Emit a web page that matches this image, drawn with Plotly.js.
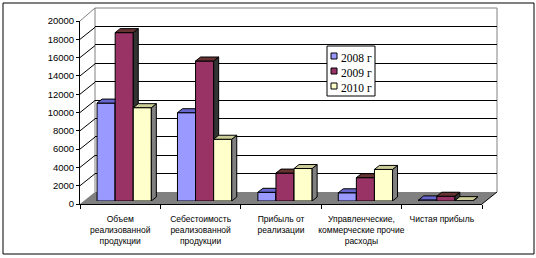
<!DOCTYPE html>
<html>
<head>
<meta charset="utf-8">
<script src="https://cdn.plot.ly/plotly-3.0.1.min.js"></script>
<style>html,body{margin:0;padding:0;background:#fff;}#chart{width:536px;height:258px;}</style>
</head>
<body>
<div id="chart"></div>
<script>
// ---- data ----
const categories = ['Объем<br>реализованной<br>продукции', 'Себестоимость<br>реализованной<br>продукции', 'Прибыль от<br>реализации', 'Управленческие,<br>коммерческие прочие<br>расходы', 'Чистая прибыль'];
const seriesNames = ['2008 г', '2009 г', '2010 г'];
const values2008 = [10700, 9650, 950, 900, 120];
const values2009 = [18400, 15300, 3050, 2550, 520];
const values2010 = [10200, 6750, 3550, 3450, 40];
const yTicks = [0, 2000, 4000, 6000, 8000, 10000, 12000, 14000, 16000, 18000, 20000];
const yTickLabels = ['0', '2000', '4000', '6000', '8000', '10000', '12000', '14000', '16000', '18000', '20000'];

// ---- style ----
const W = 536, H = 258;
const px = x => x / W, py = y => 1 - y / H;
const frontCol = ['#9999FF', '#993366', '#FFFFCC'];
const topCol = ['#6666CC', '#663333', '#CCCC99'];
const sideCol = ['#4D4D99', '#333333', '#808080'];
const seriesVals = [values2008, values2009, values2010];
const barW = 0.225;
const offsets = [-0.3375, -0.1125, 0.1125];
const unitPx = 402 / 5;            // x px per category
const yPx = 183 / 20000;           // y px per value unit
const ddx = 5 / unitPx, ddy = 4 / yPx;
const wallDy = 12 / yPx;
const idx = categories.map((c, i) => i);
const bounds = [-0.5, 0.5, 1.5, 2.5, 3.5, 4.5];
const font = 'Liberation Sans, Arial, sans-serif';

const traces = [];
traces.push({type: 'scatter', x: [], y: [], xaxis: 'x', yaxis: 'y', showlegend: false, hoverinfo: 'skip'});
traces.push({type: 'scatter', x: [], y: [], xaxis: 'x2', yaxis: 'y2', showlegend: false, hoverinfo: 'skip'});
traces.push({type: 'scatter', x: [], y: [], xaxis: 'x6', yaxis: 'y2', showlegend: false, hoverinfo: 'skip'});

seriesVals.forEach((vals, k) => {
  const xa = 'x' + (3 + k), ya = 'y' + (3 + k);
  traces.push({
    type: 'bar', x: idx, y: vals, name: seriesNames[k], width: barW, offset: offsets[k],
    xaxis: xa, yaxis: ya, showlegend: false, hoverinfo: 'skip',
    marker: {color: frontCol[k], line: {color: '#000', width: 1}}
  });
  const tx = [], ty = [], sx = [], sy = [];
  vals.forEach((v, i) => {
    const xl = i + offsets[k], xr = xl + barW;
    tx.push(xl, xr, xr + ddx, xl + ddx, xl, null);
    ty.push(v, v, v + ddy, v + ddy, v, null);
    sx.push(xr, xr + ddx, xr + ddx, xr, xr, null);
    sy.push(0, ddy, v + ddy, v, 0, null);
  });
  traces.push({type: 'scatter', mode: 'lines', x: sx, y: sy, xaxis: xa, yaxis: ya, fill: 'toself',
    fillcolor: sideCol[k], line: {color: '#000', width: 1}, showlegend: false, hoverinfo: 'skip'});
  traces.push({type: 'scatter', mode: 'lines', x: tx, y: ty, xaxis: xa, yaxis: ya, fill: 'toself',
    fillcolor: topCol[k], line: {color: '#000', width: 1}, showlegend: false, hoverinfo: 'skip'});
});

const hiddenX = dom => ({domain: dom, range: [-0.5, 4.5], showgrid: false, zeroline: false, showline: false, showticklabels: false, ticks: '', fixedrange: true});
const hiddenY = dom => ({domain: dom, range: [0, 20000], showgrid: false, zeroline: false, showline: false, showticklabels: false, ticks: '', fixedrange: true});

const layout = {
  width: W, height: H, margin: {l: 0, r: 0, t: 0, b: 0}, autosize: false,
  paper_bgcolor: '#fff', plot_bgcolor: 'rgba(0,0,0,0)', showlegend: false,
  xaxis: Object.assign(hiddenX([px(95), px(497)]), {anchor: 'y'}),
  yaxis: Object.assign(hiddenY([py(192), py(8)]), {anchor: 'x', showgrid: true, gridcolor: '#000', gridwidth: 1,
    tickmode: 'array', tickvals: yTicks.slice(1, -1)}),
  xaxis2: {domain: [px(80), px(482)], range: [-0.5, 4.5], anchor: 'y2', showline: true, linecolor: '#000', linewidth: 1,
    tickmode: 'array', tickvals: bounds, ticktext: bounds.map(() => ''), ticks: 'outside', ticklen: 4, tickcolor: '#000', tickwidth: 1,
    showgrid: false, zeroline: false, fixedrange: true},
  xaxis6: {overlaying: 'x2', anchor: 'y2', range: [-0.5, 4.5], showline: false,
    tickmode: 'array', tickvals: idx, ticktext: categories, ticks: 'outside', ticklen: 7, tickcolor: 'rgba(0,0,0,0)',
    tickfont: {family: font, size: 8.5, color: '#000'}, showgrid: false, zeroline: false, fixedrange: true},
  yaxis2: {domain: [py(204), py(21)], range: [0, 20000], anchor: 'x2', showline: true, linecolor: '#000', linewidth: 1,
    tickmode: 'array', tickvals: yTicks, ticktext: yTickLabels, ticks: 'outside', ticklen: 3, tickcolor: '#000',
    tickfont: {family: font, size: 9.5, color: '#000'}, showgrid: false, zeroline: false, fixedrange: true},
  shapes: [], annotations: []
};
for (let k = 0; k < 3; k++) {
  layout['xaxis' + (3 + k)] = Object.assign(hiddenX([px(84), px(486)]), {anchor: 'y' + (3 + k)});
  layout['yaxis' + (3 + k)] = Object.assign(hiddenY([py(201), py(18)]), {anchor: 'x' + (3 + k)});
}

const line = (x0, y0, x1, y1, color, layer) => ({type: 'line', xref: 'paper', yref: 'paper',
  x0: px(x0), y0: py(y0), x1: px(x1), y1: py(y1), line: {color: color, width: 1}, layer: layer || 'above'});
// floor
layout.shapes.push({type: 'path', xref: 'paper', yref: 'paper', layer: 'below',
  path: `M${px(80)},${py(204)} L${px(482)},${py(204)} L${px(497)},${py(192)} L${px(95)},${py(192)} Z`,
  fillcolor: '#808080', line: {width: 0}});
layout.shapes.push(line(482, 204, 497, 192, '#000', 'below'));
// wall edges
layout.shapes.push(line(95, 8, 95, 192, '#808080', 'below'));
layout.shapes.push(line(95, 8, 497, 8, '#808080', 'below'));
layout.shapes.push(line(497, 8, 497, 192, '#808080', 'below'));
layout.shapes.push(line(80, 21, 95, 8, '#808080', 'below'));
// side-wall gridlines
yTicks.slice(1, -1).forEach(t => {
  layout.shapes.push({type: 'line', xref: 'paper', yref: 'y2', x0: px(80), x1: px(95), y0: t, y1: t + wallDy,
    line: {color: '#000', width: 1}, layer: 'below'});
});
// outer border
layout.shapes.push({type: 'rect', xref: 'paper', yref: 'paper', x0: px(3), y0: py(254), x1: px(534), y1: py(3),
  line: {color: '#000', width: 1}, fillcolor: 'rgba(0,0,0,0)'});
// legend
layout.shapes.push({type: 'rect', xref: 'paper', yref: 'paper', x0: px(327), y0: py(96), x1: px(375), y1: py(46),
  line: {color: '#000', width: 1}, fillcolor: '#fff'});
const legY = [58, 73, 88];
seriesNames.forEach((n, k) => {
  layout.shapes.push({type: 'rect', xref: 'paper', yref: 'paper', x0: px(331), x1: px(337), y0: py(legY[k] + 1), y1: py(legY[k] - 5),
    line: {color: '#000', width: 1}, fillcolor: frontCol[k]});
  layout.annotations.push({xref: 'paper', yref: 'paper', x: px(339), y: py(legY[k]), xanchor: 'left', yanchor: 'middle',
    text: n, showarrow: false, font: {family: 'Liberation Serif, Times New Roman, serif', size: 11.5, color: '#000'}});
});

Plotly.newPlot('chart', traces, layout, {staticPlot: true, displayModeBar: false});
</script>
</body>
</html>
